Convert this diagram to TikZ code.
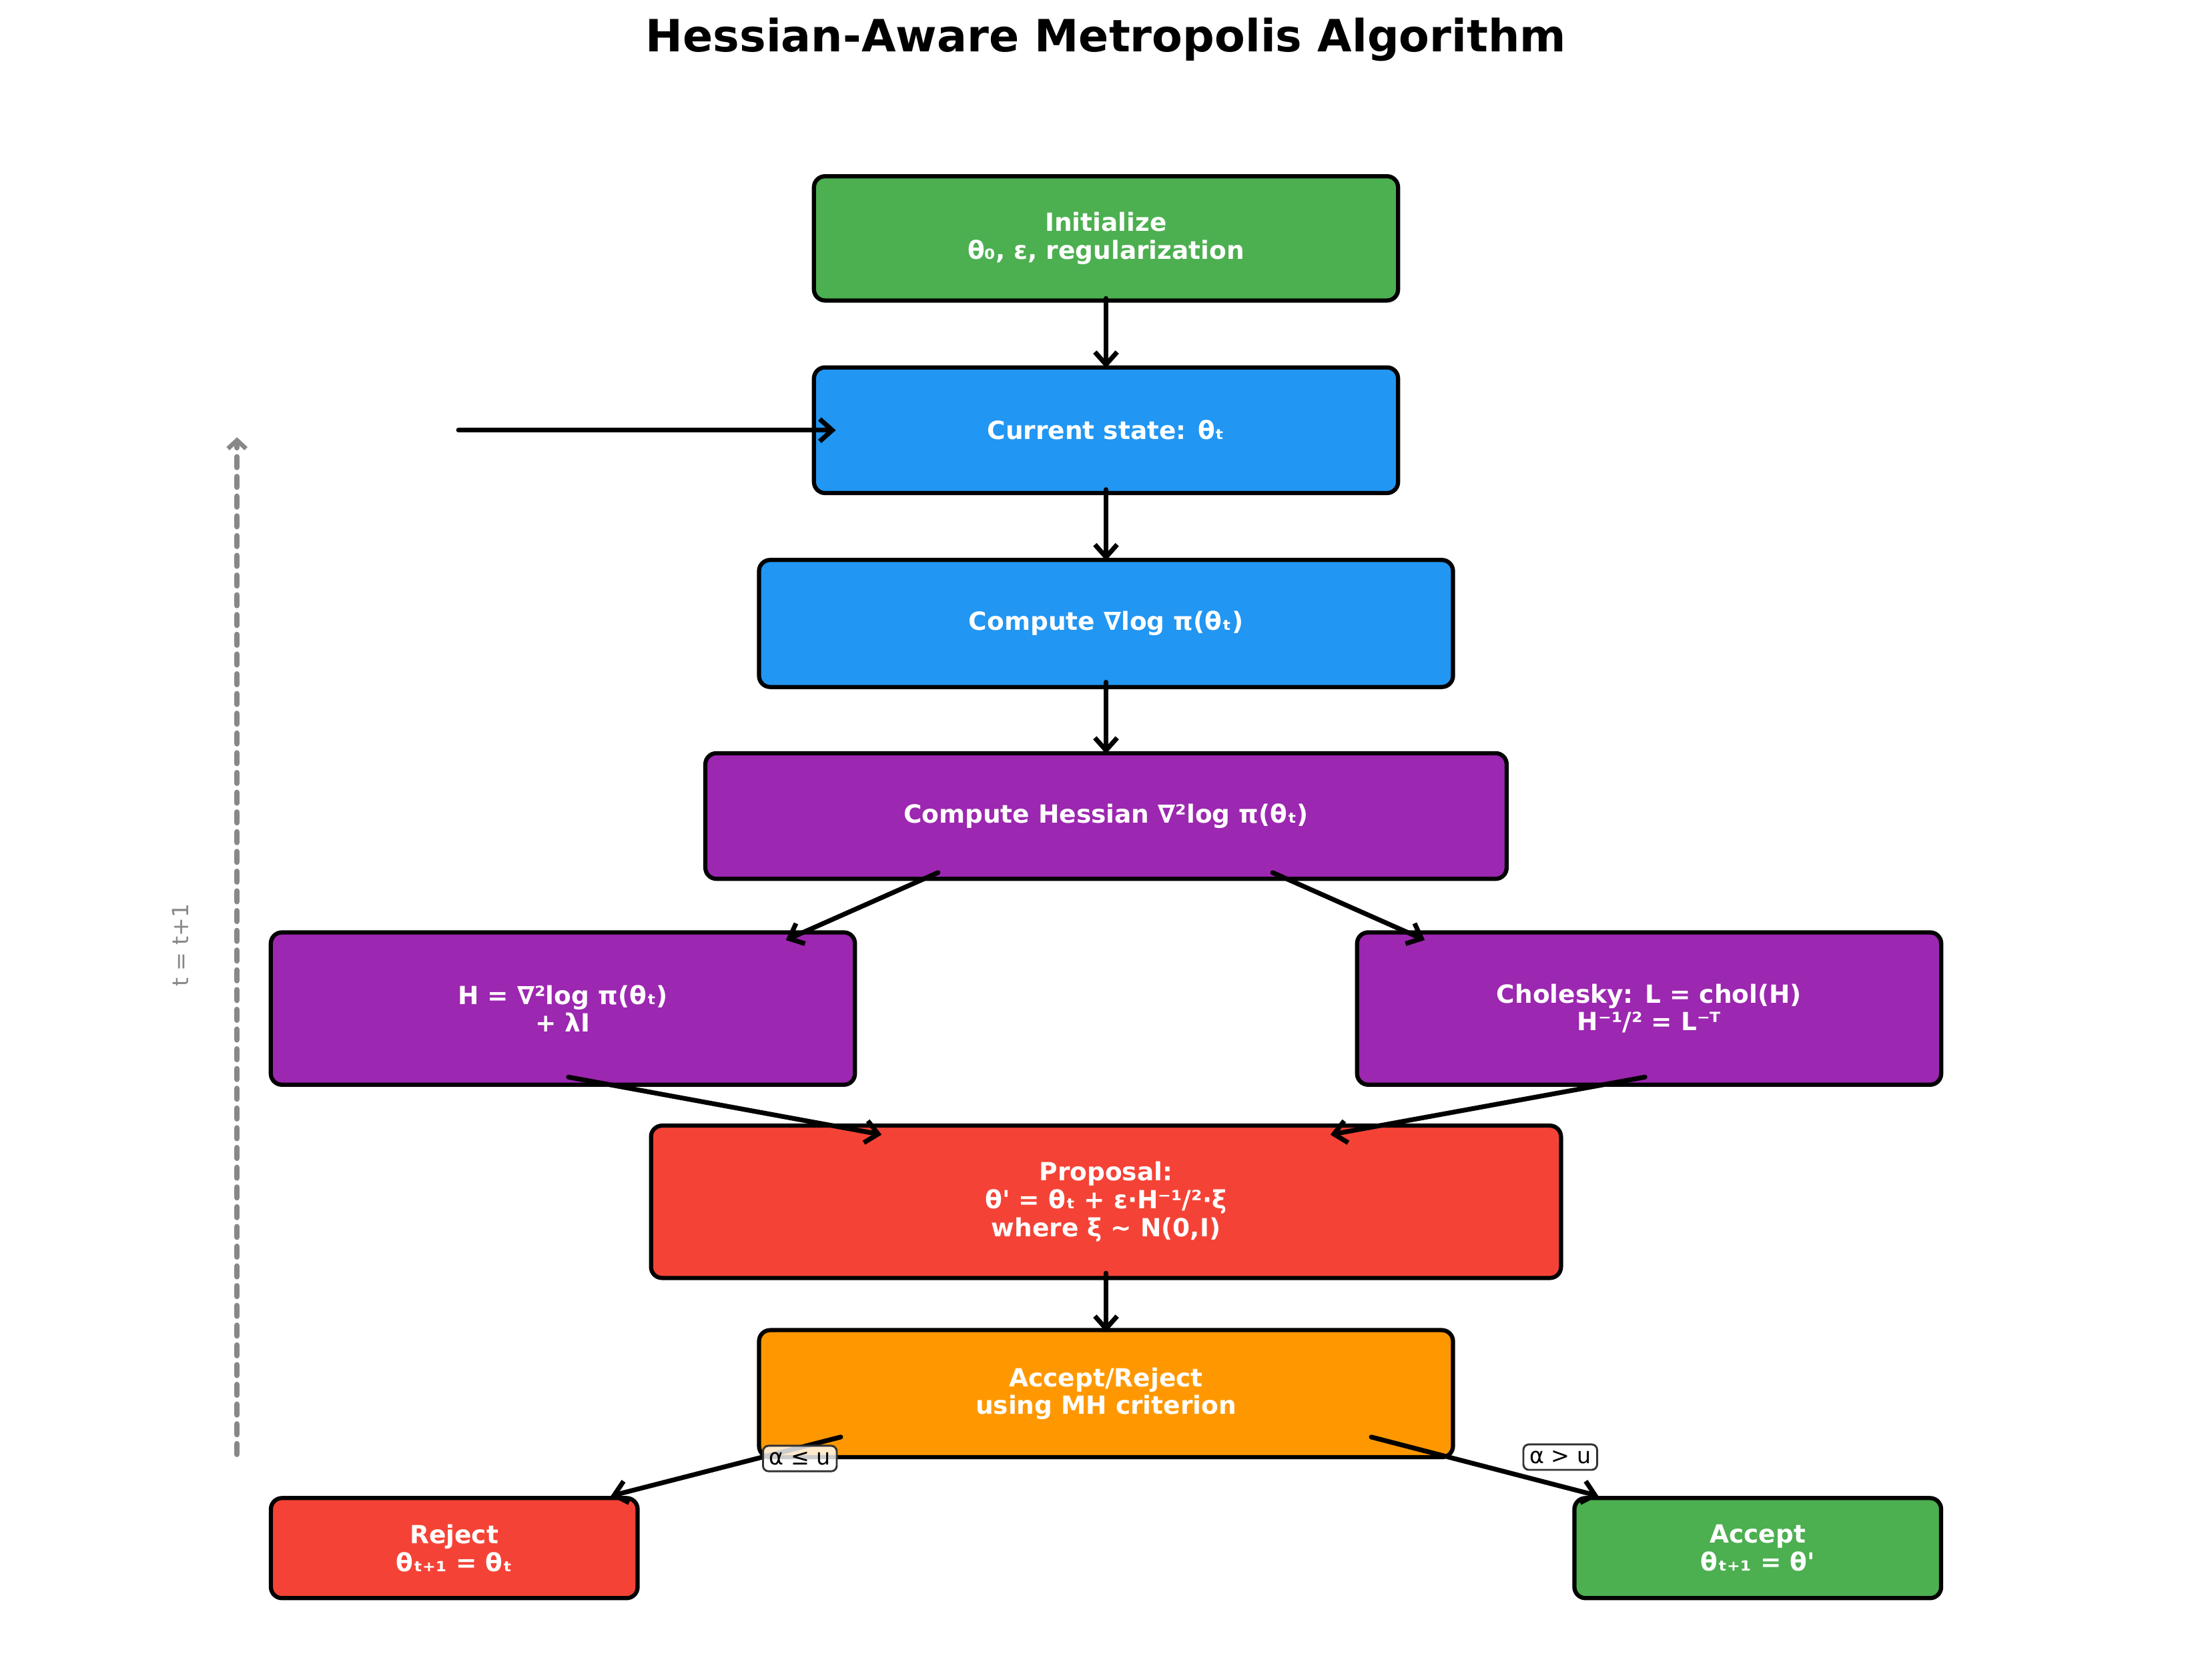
\documentclass[tikz,border=0pt]{standalone}
\usepackage{fontspec}
\newfontfamily\dv{DejaVu Sans}
\usetikzlibrary{arrows.meta,calc}
\definecolor{cgreen}{HTML}{4CAF50}
\definecolor{cblue}{HTML}{2196F3}
\definecolor{cpurple}{HTML}{9C27B0}
\definecolor{cred}{HTML}{F44336}
\definecolor{corange}{HTML}{FF9800}
\definecolor{cgray}{HTML}{888888}
\begin{document}
\begin{tikzpicture}[x=0.5074pt,y=-0.5074pt,
  box/.style={draw=black,line width=1.5pt,rounded corners=4pt,text=white,
    font=\dv\fontsize{9}{10}\selectfont\bfseries,align=center,inner sep=0pt},
  flow/.style={line width=1.7pt,line cap=round,
    -{Straight Barb[length=4.5pt,width=8pt,line width=1.7pt]}},
  lbl/.style={draw=black!80,fill=white,fill opacity=0.8,text opacity=1,
    rounded corners=2pt,font=\dv\fontsize{8}{9}\selectfont,inner sep=2.2pt,line width=0.7pt}]
\useasboundingbox (0,0) rectangle (1568,1185);

\node[font=\dv\fontsize{16}{18}\selectfont\bfseries] (title) at (784,28) {Hessian-Aware Metropolis Algorithm};

\node[box,fill=cgreen,minimum width=210.1pt,minimum height=44.7pt] (init) at (784,169) {Initialize\\θ₀, ε, regularization};
\node[box,fill=cblue,minimum width=210.1pt,minimum height=45.2pt] (cur) at (784,305) {Current state: θₜ};
\node[box,fill=cblue,minimum width=249.6pt,minimum height=45.7pt] (grad) at (784,442) {Compute ∇log π(θₜ)};
\node[box,fill=cpurple,minimum width=288.2pt,minimum height=45.2pt] (hess) at (784,578.5) {Compute Hessian ∇²log π(θₜ)};
\node[box,fill=cpurple,minimum width=210.1pt,minimum height=54.8pt] (H) at (399,715) {H = ∇²log π(θₜ)\\+ λI};
\node[box,fill=cpurple,minimum width=210.1pt,minimum height=54.8pt] (chol) at (1169,715) {Cholesky: L = chol(H)\\H⁻¹/² = L⁻ᵀ};
\node[box,fill=cred,minimum width=327.3pt,minimum height=54.8pt] (prop) at (784,852) {Proposal:\\θ' = θₜ + ε·H⁻¹/²·ξ\\where ξ \textasciitilde{} N(0,I)};
\node[box,fill=corange,minimum width=249.6pt,minimum height=45.7pt] (ar) at (784,988) {Accept/Reject\\using MH criterion};
\node[box,fill=cred,minimum width=131.9pt,minimum height=36pt] (rej) at (322,1097.5) {Reject\\θₜ₊₁ = θₜ};
\node[box,fill=cgreen,minimum width=131.9pt,minimum height=36pt] (acc) at (1246,1097.5) {Accept\\θₜ₊₁ = θ'};

\coordinate (fbstart) at (325,305);
\coordinate (loopbot) at (168,1031);
\coordinate (looptop) at (168,310);

\draw[flow] ($(init.south)+(0,1.5pt)$) -- ($(cur.north)+(0,-1pt)$);
\draw[flow] ($(cur.south)+(0,2pt)$) -- ($(grad.north)+(0,-1pt)$);
\draw[flow] ($(grad.south)+(0,2.5pt)$) -- ($(hess.north)+(0,-1pt)$);
\draw[flow] ($(hess.south)+(-60.4pt,3pt)$) -- ($(H.north)+(80.2pt,-3.5pt)$);
\draw[flow] ($(hess.south)+(59.9pt,3pt)$) -- ($(chol.north)+(-80.7pt,-3.5pt)$);
\draw[flow] ($(H.south)+(2pt,3.5pt)$) -- ($(prop.north)+(-80.7pt,-4pt)$);
\draw[flow] ($(chol.south)+(-1.5pt,3.5pt)$) -- ($(prop.north)+(80.7pt,-4pt)$);
\draw[flow] ($(prop.south)+(0,2.5pt)$) -- ($(ar.north)+(0,-1.5pt)$);
\draw[flow] ($(ar.south)+(-95.4pt,8pt)$) -- ($(rej.north)+(56.3pt,0pt)$);
\draw[flow] ($(ar.south)+(95.4pt,8pt)$) -- ($(acc.north)+(-57.3pt,0pt)$);
\draw[flow] (fbstart) -- ($(cur.west)+(8.6pt,0)$);

\draw[cgray,line width=2pt,line cap=round,dash pattern=on 3.8pt off 3.3pt,
  -{Straight Barb[length=3pt,width=6.5pt,line width=1.6pt]}] (loopbot) -- (looptop);
\node[rotate=90,text=cgray,font=\dv\fontsize{8}{9}\selectfont] (looplbl) at (128,670) {t = t+1};

\node[lbl] (lrej) at (567,1034) {α ≤ u};
\node[lbl] (lacc) at (1106,1033) {α > u};
\end{tikzpicture}
\end{document}
